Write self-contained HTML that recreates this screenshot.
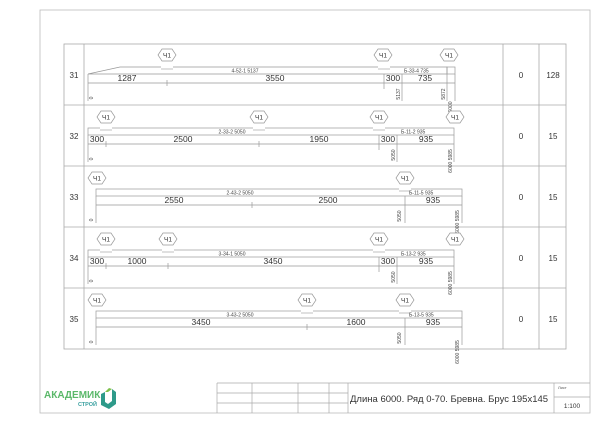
<!DOCTYPE html>
<html><head><meta charset="utf-8"><style>
html,body{margin:0;padding:0;background:#fff;}
svg{display:block;font-family:"Liberation Sans",sans-serif;}
</style></head><body>
<svg width="600" height="424" viewBox="0 0 600 424" xmlns="http://www.w3.org/2000/svg">
<defs>
<g id="hx"><polygon points="-9,0 -5,-6 5,-6 9,0 5,6 -5,6" fill="#fff" stroke="#999" stroke-width="0.7"/></g>
</defs>
<!-- outer frame -->
<rect x="40" y="10" width="550" height="403" fill="none" stroke="#bbb" stroke-width="0.8"/>
<!-- table -->
<g stroke="#aaa" stroke-width="0.8" fill="none">
<rect x="64" y="44" width="502" height="305"/>
<line x1="84" y1="44" x2="84" y2="349"/>
<line x1="503" y1="44" x2="503" y2="349"/>
<line x1="539" y1="44" x2="539" y2="349"/>
<line x1="64" y1="105" x2="566" y2="105"/>
<line x1="64" y1="166" x2="566" y2="166"/>
<line x1="64" y1="227" x2="566" y2="227"/>
<line x1="64" y1="288" x2="566" y2="288"/>
</g>
<g font-size="8" fill="#333" text-anchor="middle">
<text x="74" y="78">31</text><text x="521" y="78">0</text><text x="553" y="78">128</text>
<text x="74" y="139">32</text><text x="521" y="139">0</text><text x="553" y="139">15</text>
<text x="74" y="200">33</text><text x="521" y="200">0</text><text x="553" y="200">15</text>
<text x="74" y="261">34</text><text x="521" y="261">0</text><text x="553" y="261">15</text>
<text x="74" y="322">35</text><text x="521" y="322">0</text><text x="553" y="322">15</text>
</g>

<!-- Row 31 -->
<g transform="translate(0,44)">
<g stroke="#999" stroke-width="0.7" fill="none">
<polyline points="88,30 120,23 447,23 447,30 88,30"/>
<rect x="447" y="23" width="8" height="7"/>
<line x1="88" y1="39" x2="455" y2="39"/>
<line x1="88" y1="30" x2="88" y2="57"/><line x1="167" y1="36" x2="167" y2="42"/>
<line x1="384" y1="30" x2="384" y2="45"/><line x1="402" y1="30" x2="402" y2="57"/>
<line x1="447" y1="30" x2="447" y2="57"/><line x1="455" y1="30" x2="455" y2="57"/>
</g>
<g fill="#fff"><rect x="161" y="22" width="12" height="2"/><rect x="378" y="22" width="12" height="2"/></g>
<g stroke="#999" stroke-width="0.6"><line x1="161" y1="25" x2="173" y2="25"/><line x1="378" y1="25" x2="390" y2="25"/></g>
<use href="#hx" x="167" y="11"/><use href="#hx" x="383" y="11"/><use href="#hx" x="449" y="11"/>
<g font-size="6.5" text-anchor="middle" fill="#333"><text x="167" y="13.5">Ч1</text><text x="383" y="13.5">Ч1</text><text x="449" y="13.5">Ч1</text></g>
<g font-size="5" fill="#444"><text x="245" y="28.5" text-anchor="middle">4-52-1  5137</text><text x="404" y="28.5">Б-33-4  735</text></g>
<g font-size="8.5" fill="#333" text-anchor="middle"><text x="127" y="37">1287</text><text x="275" y="37">3550</text><text x="393" y="37">300</text><text x="425" y="37">735</text></g>
<g font-size="5" fill="#444" text-anchor="middle">
<text transform="translate(400,50) rotate(-90)">5137</text>
<text transform="translate(445,50) rotate(-90)">5872</text>
<text transform="translate(452,63) rotate(-90)">6000</text>
<text transform="translate(93,54) rotate(-90)">0</text></g>
</g>

<!-- Row 32 -->
<g transform="translate(0,105)">
<g stroke="#999" stroke-width="0.7" fill="none">
<rect x="88" y="23" width="366" height="7"/>
<line x1="88" y1="39" x2="454" y2="39"/>
<line x1="88" y1="30" x2="88" y2="57"/><line x1="106" y1="36" x2="106" y2="42"/>
<line x1="259" y1="36" x2="259" y2="42"/><line x1="379" y1="30" x2="379" y2="45"/>
<line x1="397" y1="30" x2="397" y2="57"/><line x1="454" y1="30" x2="454" y2="57"/>
</g>
<g fill="#fff"><rect x="100" y="22" width="12" height="2"/><rect x="253" y="22" width="12" height="2"/><rect x="373" y="22" width="12" height="2"/></g>
<g stroke="#999" stroke-width="0.6"><line x1="100" y1="25" x2="112" y2="25"/><line x1="253" y1="25" x2="265" y2="25"/><line x1="373" y1="25" x2="385" y2="25"/></g>
<use href="#hx" x="106" y="12"/><use href="#hx" x="259" y="12"/><use href="#hx" x="379" y="12"/><use href="#hx" x="455" y="12"/>
<g font-size="6.5" text-anchor="middle" fill="#333"><text x="106" y="14.5">Ч1</text><text x="259" y="14.5">Ч1</text><text x="379" y="14.5">Ч1</text><text x="455" y="14.5">Ч1</text></g>
<g font-size="5" fill="#444"><text x="232" y="28.5" text-anchor="middle">2-33-2  5050</text><text x="401" y="28.5">Б-11-2  935</text></g>
<g font-size="8.5" fill="#333" text-anchor="middle"><text x="97" y="37">300</text><text x="183" y="37">2500</text><text x="319" y="37">1950</text><text x="388" y="37">300</text><text x="426" y="37">935</text></g>
<g font-size="5" fill="#444" text-anchor="middle">
<text transform="translate(395,50) rotate(-90)">5050</text>
<text transform="translate(452,56) rotate(-90)">6000 5985</text>
<text transform="translate(93,54) rotate(-90)">0</text></g>
</g>

<!-- Row 33 -->
<g transform="translate(0,166)">
<g stroke="#999" stroke-width="0.7" fill="none">
<rect x="96" y="23" width="366" height="7"/>
<line x1="96" y1="39" x2="462" y2="39"/>
<line x1="96" y1="30" x2="96" y2="57"/><line x1="252" y1="36" x2="252" y2="42"/>
<line x1="405" y1="30" x2="405" y2="57"/><line x1="462" y1="30" x2="462" y2="57"/>
</g>
<g fill="#fff"><rect x="399" y="22" width="12" height="2"/></g>
<g stroke="#999" stroke-width="0.6"><line x1="399" y1="25" x2="411" y2="25"/></g>
<use href="#hx" x="97" y="12"/><use href="#hx" x="405" y="12"/>
<g font-size="6.5" text-anchor="middle" fill="#333"><text x="97" y="14.5">Ч1</text><text x="405" y="14.5">Ч1</text></g>
<g font-size="5" fill="#444"><text x="240" y="28.5" text-anchor="middle">2-43-2  5050</text><text x="409" y="28.5">Б-11-5  935</text></g>
<g font-size="8.5" fill="#333" text-anchor="middle"><text x="174" y="37">2550</text><text x="328" y="37">2500</text><text x="433" y="37">935</text></g>
<g font-size="5" fill="#444" text-anchor="middle">
<text transform="translate(401,50) rotate(-90)">5050</text>
<text transform="translate(459,56) rotate(-90)">6000 5985</text>
<text transform="translate(93,54) rotate(-90)">0</text></g>
</g>

<!-- Row 34 -->
<g transform="translate(0,227)">
<g stroke="#999" stroke-width="0.7" fill="none">
<rect x="88" y="23" width="366" height="7"/>
<line x1="88" y1="39" x2="454" y2="39"/>
<line x1="88" y1="30" x2="88" y2="57"/><line x1="106" y1="36" x2="106" y2="42"/>
<line x1="168" y1="36" x2="168" y2="42"/><line x1="379" y1="30" x2="379" y2="45"/>
<line x1="397" y1="30" x2="397" y2="57"/><line x1="454" y1="30" x2="454" y2="57"/>
</g>
<g fill="#fff"><rect x="100" y="22" width="12" height="2"/><rect x="162" y="22" width="12" height="2"/><rect x="373" y="22" width="12" height="2"/></g>
<g stroke="#999" stroke-width="0.6"><line x1="100" y1="25" x2="112" y2="25"/><line x1="162" y1="25" x2="174" y2="25"/><line x1="373" y1="25" x2="385" y2="25"/></g>
<use href="#hx" x="106" y="12"/><use href="#hx" x="168" y="12"/><use href="#hx" x="379" y="12"/><use href="#hx" x="455" y="12"/>
<g font-size="6.5" text-anchor="middle" fill="#333"><text x="106" y="14.5">Ч1</text><text x="168" y="14.5">Ч1</text><text x="379" y="14.5">Ч1</text><text x="455" y="14.5">Ч1</text></g>
<g font-size="5" fill="#444"><text x="232" y="28.5" text-anchor="middle">3-34-1  5050</text><text x="401" y="28.5">Б-13-2  935</text></g>
<g font-size="8.5" fill="#333" text-anchor="middle"><text x="97" y="37">300</text><text x="137" y="37">1000</text><text x="273" y="37">3450</text><text x="388" y="37">300</text><text x="426" y="37">935</text></g>
<g font-size="5" fill="#444" text-anchor="middle">
<text transform="translate(395,50) rotate(-90)">5050</text>
<text transform="translate(452,56) rotate(-90)">6000 5985</text>
<text transform="translate(93,54) rotate(-90)">0</text></g>
</g>

<!-- Row 35 -->
<g transform="translate(0,288)">
<g stroke="#999" stroke-width="0.7" fill="none">
<rect x="96" y="23" width="366" height="7"/>
<line x1="96" y1="39" x2="462" y2="39"/>
<line x1="96" y1="30" x2="96" y2="57"/><line x1="307" y1="36" x2="307" y2="42"/>
<line x1="405" y1="30" x2="405" y2="57"/><line x1="462" y1="30" x2="462" y2="57"/>
</g>
<g fill="#fff"><rect x="301" y="22" width="12" height="2"/><rect x="399" y="22" width="12" height="2"/></g>
<g stroke="#999" stroke-width="0.6"><line x1="301" y1="25" x2="313" y2="25"/><line x1="399" y1="25" x2="411" y2="25"/></g>
<use href="#hx" x="97" y="12"/><use href="#hx" x="307" y="12"/><use href="#hx" x="405" y="12"/>
<g font-size="6.5" text-anchor="middle" fill="#333"><text x="97" y="14.5">Ч1</text><text x="307" y="14.5">Ч1</text><text x="405" y="14.5">Ч1</text></g>
<g font-size="5" fill="#444"><text x="240" y="28.5" text-anchor="middle">3-43-2  5050</text><text x="409" y="28.5">Б-13-5  935</text></g>
<g font-size="8.5" fill="#333" text-anchor="middle"><text x="201" y="37">3450</text><text x="356" y="37">1600</text><text x="433" y="37">935</text></g>
<g font-size="5" fill="#444" text-anchor="middle">
<text transform="translate(401,50) rotate(-90)">5050</text>
<text transform="translate(459,64) rotate(-90)">6000 5985</text>
<text transform="translate(93,54) rotate(-90)">0</text></g>
</g>

<!-- title block -->
<g stroke="#aaa" stroke-width="0.7" fill="none">
<line x1="217" y1="383" x2="590" y2="383"/>
<line x1="217" y1="393" x2="348" y2="393"/>
<line x1="217" y1="403" x2="348" y2="403"/>
<line x1="554" y1="397" x2="590" y2="397"/>
<line x1="217" y1="383" x2="217" y2="413"/>
<line x1="252" y1="383" x2="252" y2="413"/>
<line x1="298" y1="383" x2="298" y2="413"/>
<line x1="329" y1="383" x2="329" y2="413"/>
<line x1="348" y1="383" x2="348" y2="413"/>
<line x1="554" y1="383" x2="554" y2="413"/>
</g>
<text x="350" y="402" font-size="9.5" fill="#333">Длина 6000. Ряд 0-70. Бревна. Брус 195х145</text>
<text x="558" y="389" font-size="4" fill="#555">Лист</text>
<text x="572" y="408" font-size="6.5" fill="#333" text-anchor="middle">1:100</text>
<!-- logo -->
<text x="44" y="398" font-size="10" font-weight="bold" fill="#5bb86a">АКАДЕМИК</text>
<text x="97" y="406" font-size="5.5" font-weight="bold" fill="#3aa0a0" text-anchor="end">СТРОЙ</text>
<path d="M101 394 L101 405 L109 409 L116 404 L116 392 L112 389 L112 401 L108 404 L105 402 L105 392 Z" fill="#2e9a8a"/>
<path d="M105 392 L109 388 L112 389 L108 392 Z" fill="#7cc04a"/>
</svg>
</body></html>
